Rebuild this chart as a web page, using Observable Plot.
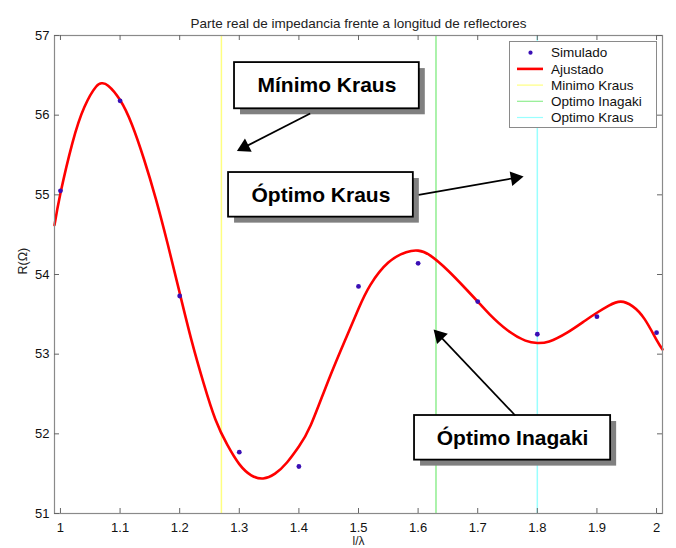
<!DOCTYPE html>
<html><head><meta charset="utf-8">
<script src="https://cdn.jsdelivr.net/npm/d3@7"></script>
<script src="https://cdn.jsdelivr.net/npm/@observablehq/plot@0.6"></script>
<style>
body{margin:0;background:#fff;}
#chart{position:relative;width:676px;height:548px;}
</style>
</head><body><div id="chart"></div>
<script>
// ---- data ----
const simuladoX = [1.0, 1.1, 1.2, 1.3, 1.4, 1.5, 1.6, 1.7, 1.8, 1.9, 2.0];
const simuladoY = [55.05, 56.18, 53.73, 51.77, 51.59, 53.85, 54.14, 53.66, 53.25, 53.47, 53.27];

const ajustadoX = [0.99,1.00,1.02,1.04,1.06,1.07,1.08,1.10,1.12,1.14,1.16,1.18,1.20,1.22,1.24,1.26,1.28,1.30,1.32,1.34,1.36,1.38,1.40,1.42,1.45,1.48,1.50,1.52,1.55,1.58,1.60,1.62,1.65,1.68,1.70,1.72,1.75,1.78,1.80,1.82,1.85,1.88,1.90,1.92,1.94,1.96,1.98,2.00,2.01];
const ajustadoY = [54.62,55.02,55.65,56.10,56.36,56.40,56.37,56.19,55.88,55.45,54.95,54.38,53.77,53.17,52.64,52.18,51.86,51.62,51.48,51.44,51.50,51.64,51.84,52.11,52.68,53.22,53.57,53.87,54.15,54.28,54.30,54.24,54.05,53.82,53.66,53.50,53.30,53.17,53.14,53.16,53.27,53.42,53.52,53.61,53.66,53.60,53.44,53.18,53.06];

const refNames = ["Minimo Kraus", "Optimo Inagaki", "Optimo Kraus"];
const refX = [1.27, 1.63, 1.80];
const refColors = ["#ffff80", "#90ee90", "#99ffff"];

const xTicks = [1, 1.1, 1.2, 1.3, 1.4, 1.5, 1.6, 1.7, 1.8, 1.9, 2];
const yTicks = [51, 52, 53, 54, 55, 56, 57];

const titulo = "Parte real de impedancia frente a longitud de reflectores";
const xLabel = "l/λ";
const yLabel = "R(Ω)";

// annotations (data coordinates)
const cajaTexto = ["Mínimo Kraus", "Óptimo Kraus", "Óptimo Inagaki"];
const cajaX1 = [1.292, 1.282, 1.594];
const cajaX2 = [1.602, 1.592, 1.923];
const cajaY1 = [56.08, 54.72, 51.67];
const cajaY2 = [56.66, 55.28, 52.23];
const flechaX1 = [1.419, 1.601, 1.763];
const flechaY1 = [56.02, 55.00, 52.23];
const flechaX2 = [1.296, 1.777, 1.626];
const flechaY2 = [55.55, 55.23, 53.31];

// ---- layout ----
const W = 676, H = 548;
const mL = 54, mR = 14, mT = 35, mB = 35;
const xDomain = [0.99, 2.01], yDomain = [51, 57];
const plotW = W - mL - mR, plotH = H - mT - mB;
const kx = plotW / (xDomain[1] - xDomain[0]);
const ky = plotH / (yDomain[1] - yDomain[0]);
const headR = 5.5;
const headC = 2 * Math.sqrt(Math.PI * headR * headR / (3 * Math.sqrt(3))); // centroid-to-apex px

const sim = simuladoX.map((x, i) => ({x, y: simuladoY[i]}));
const fit = ajustadoX.map((x, i) => ({x, y: ajustadoY[i]}));
const refs = refX.map((x, i) => ({x, color: refColors[i], name: refNames[i]}));
const cajas = cajaTexto.map((t, i) => ({t, x1: cajaX1[i], x2: cajaX2[i], y1: cajaY1[i], y2: cajaY2[i],
  cx: (cajaX1[i] + cajaX2[i]) / 2, cy: (cajaY1[i] + cajaY2[i]) / 2}));
const flechas = flechaX1.map((x1, i) => {
  const x2 = flechaX2[i], y1 = flechaY1[i], y2 = flechaY2[i];
  const dxp = (x2 - x1) * kx, dyp = -(y2 - y1) * ky;
  const len = Math.hypot(dxp, dyp);
  const ux = dxp / len, uy = dyp / len;
  const ang = Math.atan2(dyp, dxp) * 180 / Math.PI;
  const hx = x2 - ux * headC / kx, hy = y2 + uy * headC / ky;
  return {x1, y1, x2, y2, hx, hy, rot: ang + 90};
});

const font = "'Liberation Sans', Arial, Helvetica, sans-serif";

const plot = Plot.plot({
  width: W, height: H,
  marginLeft: mL, marginRight: mR, marginTop: mT, marginBottom: mB,
  x: {domain: xDomain},
  y: {domain: yDomain},
  color: {type: "identity"},
  style: {fontFamily: font, fontSize: "13px", background: "#fff", color: "#111", overflow: "visible"},
  marks: [
    Plot.ruleX(refs, {x: "x", stroke: "color", strokeWidth: 1.5}),
    Plot.line(fit, {x: "x", y: "y", curve: "natural", stroke: "#ff0000", strokeWidth: 2.6}),
    Plot.dot(sim, {x: "x", y: "y", r: 2.4, fill: "#3a0fb5", stroke: "none"}),
    Plot.frame({stroke: "#8a8a8a", strokeWidth: 1.2}),
    Plot.tickX(xTicks, {x: d => d, insetTop: plotH - 5, stroke: "#666"}),
    Plot.tickX(xTicks, {x: d => d, insetBottom: plotH - 5, stroke: "#666"}),
    Plot.tickY(yTicks, {y: d => d, insetRight: plotW - 5, stroke: "#666"}),
    Plot.tickY(yTicks, {y: d => d, insetLeft: plotW - 5, stroke: "#666"}),
    Plot.axisX(xTicks, {tickSize: 0, tickPadding: 9, tickFormat: d => String(d), label: null, fontSize: 13}),
    Plot.axisY(yTicks, {tickSize: 0, tickPadding: 5, tickFormat: d => String(d), label: null, fontSize: 13}),
    Plot.text([titulo], {frameAnchor: "top", dy: -17, fontSize: 13.5, fill: "#222"}),
    Plot.text([xLabel], {frameAnchor: "bottom", dy: 31, fontSize: 12, fill: "#222"}),
    Plot.text([yLabel], {frameAnchor: "left", dx: -32, rotate: -90, fontSize: 12.5, fill: "#222"}),
    // annotation boxes
    Plot.rect(cajas, {x1: "x1", x2: "x2", y1: "y1", y2: "y2", fill: "#808080", dx: 6, dy: 6}),
    Plot.rect(cajas, {x1: "x1", x2: "x2", y1: "y1", y2: "y2", fill: "#fff", stroke: "#000", strokeWidth: 1.8}),
    Plot.text(cajas, {x: "cx", y: "cy", text: "t", fontSize: 21, fontWeight: "bold", fill: "#000"}),
    Plot.link(flechas, {x1: "x1", y1: "y1", x2: "hx", y2: "hy", stroke: "#000", strokeWidth: 1.7}),
    Plot.dot(flechas, {x: "hx", y: "hy", symbol: "triangle", rotate: "rot", r: headR, fill: "#000", stroke: "none"})
  ]
});

document.getElementById("chart").appendChild(plot);

// legend
const svg = d3.select(plot.tagName.toLowerCase() === "svg" ? plot : plot.querySelector("svg"));
const leg = svg.append("g").attr("font-family", font).attr("font-size", 13.5).attr("text-anchor", "start");
leg.append("rect").attr("x", 509.5).attr("y", 41.5).attr("width", 147).attr("height", 86)
  .attr("fill", "#fff").attr("stroke", "#8a8a8a");
const legItems = [
  {name: "Simulado", type: "dot", color: "#3a0fb5"},
  {name: "Ajustado", type: "line", color: "#ff0000", w: 2.6},
  ...refs.map(r => ({name: r.name, type: "line", color: r.color, w: 1.2}))
];
legItems.forEach((it, i) => {
  const y = 52.7 + i * 16.2;
  if (it.type === "dot") {
    leg.append("circle").attr("cx", 530.5).attr("cy", y).attr("r", 2.1).attr("fill", it.color);
  } else {
    leg.append("line").attr("x1", 517).attr("x2", 543).attr("y1", y).attr("y2", y)
      .attr("stroke", it.color).attr("stroke-width", it.w);
  }
  leg.append("text").attr("x", 551).attr("y", y).attr("dy", "0.35em").attr("fill", "#111").text(it.name);
});
</script>
</body></html>
